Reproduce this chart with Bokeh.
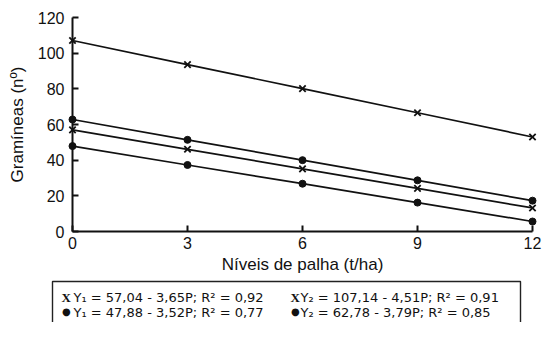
from bokeh.plotting import figure
from bokeh.models import Range1d, FixedTicker
from bokeh.embed import file_html
from bokeh.resources import INLINE
from bokeh.core.properties import value

# ---- data ----
palha = [0, 3, 6, 9, 12]
y1_x = [57.0, 46.1, 35.1, 24.2, 13.2]
y2_x = [107.1, 93.6, 80.1, 66.6, 53.0]
y1_dot = [47.9, 37.3, 26.8, 16.2, 5.6]
y2_dot = [62.8, 51.4, 40.0, 28.7, 17.3]

x_ticks = [0, 3, 6, 9, 12]
y_ticks = [0, 20, 40, 60, 80, 100, 120]

x_label = "Níveis de palha (t/ha)"
y_label = "Gramíneas (nº)"

legend_markers = ["X", "X", "●", "●"]
legend_texts = [
    "Y₁ = 57,04 - 3,65P; R² = 0,92",
    "Y₂ = 107,14 - 4,51P; R² = 0,91",
    "Y₁ =  47,88 - 3,52P; R² = 0,77",
    "Y₂ = 62,78 - 3,79P; R² = 0,85",
]

INK = "#111111"
FONT = "Liberation Sans"

# ---- layout geometry (pixels) ----
W, H = 542, 322
LEFT, RIGHT, TOP, BOTTOM = 72, 532, 17, 231
X0, X1, Y0, Y1 = 0, 12, 0, 120


def px_x(px):
    return X0 + (px - LEFT) * (X1 - X0) / (RIGHT - LEFT)


def px_y(py):
    return Y0 + (BOTTOM - py) * (Y1 - Y0) / (BOTTOM - TOP)


p = figure(width=W, height=H, x_range=Range1d(X0, X1), y_range=Range1d(Y0, Y1),
           output_backend="svg", toolbar_location=None,
           min_border_left=LEFT, min_border_right=W - RIGHT,
           min_border_top=TOP, min_border_bottom=H - BOTTOM)
p.outline_line_color = None
p.grid.visible = False

for ax in (p.xaxis[0], p.yaxis[0]):
    ax.axis_line_width = 2
    ax.axis_line_color = INK
    ax.major_tick_line_width = 2
    ax.major_tick_line_color = INK
    ax.major_tick_in = 6
    ax.major_tick_out = 0
    ax.minor_tick_line_color = None
    ax.major_label_text_font = FONT
    ax.major_label_text_font_size = "16px"
    ax.major_label_text_color = INK
    ax.axis_label_text_font = FONT
    ax.axis_label_text_font_size = "17px"
    ax.axis_label_text_font_style = "normal"
    ax.axis_label_text_color = INK

p.xaxis.ticker = FixedTicker(ticks=x_ticks)
p.yaxis.ticker = FixedTicker(ticks=y_ticks)
p.xaxis.axis_label = x_label
p.yaxis.axis_label = y_label
p.xaxis.major_label_standoff = 5
p.xaxis.axis_label_standoff = 3
p.yaxis.major_label_standoff = 8
p.yaxis.axis_label_standoff = 8

for ys, mk in ((y2_x, "x"), (y1_x, "x"), (y2_dot, "circle"), (y1_dot, "circle")):
    r = p.line(palha, ys, line_color=INK, line_width=1.7)
    r.level = "overlay"
    if mk == "x":
        r = p.scatter(palha, ys, marker="x", size=9, line_color=INK, line_width=1.8)
    else:
        r = p.scatter(palha, ys, marker="circle", size=7, fill_color=INK, line_color=INK)
    r.level = "overlay"

# ---- legend box below the axis ----
box = p.quad(left=[px_x(52)], right=[px_x(520)], top=[px_y(281)], bottom=[px_y(335)],
             fill_color=None, line_color="#222222", line_width=1.4)
box.level = "overlay"

tx = [73, 300, 73, 300]
ty = [297, 297, 312, 312]
t = p.text(x=[px_x(v) for v in tx], y=[px_y(v) for v in ty], text=legend_texts,
           text_font=value("DejaVu Sans"), text_font_size="13px",
           text_baseline="alphabetic", text_color=INK)
t.level = "overlay"

m = p.text(x=[px_x(61), px_x(290)], y=[px_y(297), px_y(297)], text=legend_markers[:2],
           text_font=value("Liberation Serif"), text_font_size="13px", text_font_style="bold",
           text_baseline="alphabetic", text_color=INK)
m.level = "overlay"
d = p.text(x=[px_x(61.5), px_x(290.5)], y=[px_y(311), px_y(311)], text=legend_markers[2:],
           text_font=value("DejaVu Sans"), text_font_size="10px",
           text_baseline="alphabetic", text_color=INK)
d.level = "overlay"

open("out.html", "w").write(file_html(p, INLINE))
